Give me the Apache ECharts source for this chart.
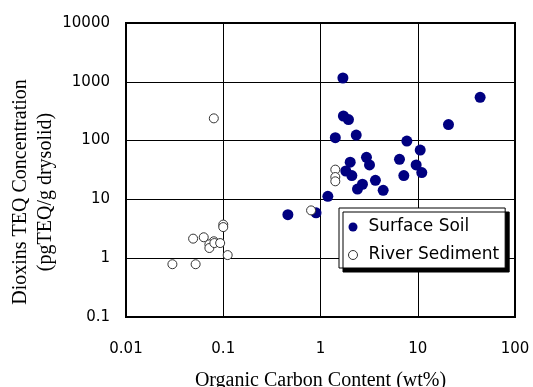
<!DOCTYPE html>
<html>
<head>
<meta charset="utf-8">
<script src="https://cdn.jsdelivr.net/npm/echarts@6/dist/echarts.min.js"></script>
<style>
  html, body { margin: 0; padding: 0; background: #fff; }
  #chart { width: 533px; height: 387px; }
</style>
</head>
<body>
<div id="chart"></div>
<script>
// organic carbon (wt%) vs dioxins TEQ (pgTEQ/g)
const soilCarbon = [1.70, 1.72, 1.94, 1.42, 2.33, 7.73, 10.6, 20.7, 43.8, 2.97, 3.19, 2.02, 1.82, 2.10, 6.49, 9.63, 11.0, 7.19, 3.67, 2.70, 2.40, 4.41, 1.19, 0.462, 0.90]
const soilTeq = [1160, 262, 228, 112, 124, 98, 69, 187, 545, 52, 38.5, 43, 30.4, 25.4, 48, 38.5, 28.6, 25.4, 21.1, 18.1, 15.0, 14.3, 11.3, 5.5, 5.9]

const sedimentCarbon = [0.080, 1.42, 1.42, 1.42, 0.80, 0.10, 0.10, 0.049, 0.063, 0.080, 0.072, 0.072, 0.081, 0.093, 0.111, 0.030, 0.052]
const sedimentTeq = [239, 32.1, 24.0, 20.3, 6.5, 3.73, 3.38, 2.15, 2.27, 1.94, 1.72, 1.49, 1.81, 1.81, 1.13, 0.79, 0.79]

const xTickLabels = ['0.01', '0.1', '1', '10', '100']
const yTickLabels = ['0.1', '1', '10', '100', '1000', '10000']

const pairs = (xs, ys) => xs.map((x, i) => [x, ys[i]])

const chart = echarts.init(document.getElementById('chart'))

const labelFor = (labels, min) => (value) => {
  const idx = Math.round(Math.log10(value) - Math.log10(min))
  return labels[idx] !== undefined ? labels[idx] : ''
}

chart.setOption({
  animation: false,
  grid: {
    left: 126,
    right: 18,
    top: 23,
    bottom: 70,
    containLabel: false,
    outerBoundsMode: 'none',
    show: true,
    borderColor: '#000',
    borderWidth: 2
  },
  legend: {
    orient: 'vertical',
    left: 339,
    top: 208,
    itemWidth: 9,
    itemHeight: 9,
    itemGap: 10,
    padding: [10, 6, 4, 9],
    backgroundColor: '#fff',
    borderColor: '#000',
    borderWidth: 1,
    shadowColor: '#000',
    shadowOffsetX: 4,
    shadowOffsetY: 4,
    shadowBlur: 0,
    itemStyle: { borderWidth: 1 },
    textStyle: {
      fontFamily: 'DejaVu Sans',
      fontSize: 17,
      lineHeight: 18,
      padding: [0, 0, 0, 6],
      color: '#000'
    },
    data: ['Surface Soil', 'River Sediment']
  },
  xAxis: {
    type: 'log',
    logBase: 10,
    min: 0.01,
    max: 100,
    name: 'Organic Carbon Content (wt%)',
    nameLocation: 'middle',
    nameGap: 54,
    nameMoveOverlap: false,
    nameTextStyle: {
      fontFamily: 'Liberation Serif',
      fontSize: 20,
      color: '#000'
    },
    axisLine: { lineStyle: { color: '#000', width: 2 } },
    axisTick: { show: false },
    axisLabel: {
      margin: 25,
      fontFamily: 'DejaVu Sans',
      fontSize: 15,
      color: '#000',
      formatter: labelFor(xTickLabels, 0.01)
    },
    splitLine: { show: true, lineStyle: { color: '#000', width: 1 } }
  },
  yAxis: {
    type: 'log',
    logBase: 10,
    min: 0.1,
    max: 10000,
    name: 'Dioxins TEQ Concentration\n(pgTEQ/g drysolid)',
    nameLocation: 'middle',
    nameRotate: 90,
    nameGap: 68,
    nameMoveOverlap: false,
    nameTextStyle: {
      fontFamily: 'Liberation Serif',
      fontSize: 20,
      lineHeight: 25,
      padding: [0, 44, 0, 0],
      color: '#000'
    },
    axisLine: { lineStyle: { color: '#000', width: 2 } },
    axisTick: { show: false },
    axisLabel: {
      margin: 16,
      fontFamily: 'DejaVu Sans',
      fontSize: 15,
      color: '#000',
      formatter: labelFor(yTickLabels, 0.1)
    },
    splitLine: { show: true, lineStyle: { color: '#000', width: 1 } }
  },
  series: [
    {
      name: 'Surface Soil',
      type: 'scatter',
      symbol: 'circle',
      symbolSize: 11,
      itemStyle: { color: '#000080', opacity: 1 },
      data: pairs(soilCarbon, soilTeq)
    },
    {
      name: 'River Sediment',
      type: 'scatter',
      symbol: 'circle',
      symbolSize: 9,
      itemStyle: { color: '#fff', borderColor: '#333', borderWidth: 1, opacity: 1 },
      data: pairs(sedimentCarbon, sedimentTeq)
    }
  ]
})
</script>
</body>
</html>
